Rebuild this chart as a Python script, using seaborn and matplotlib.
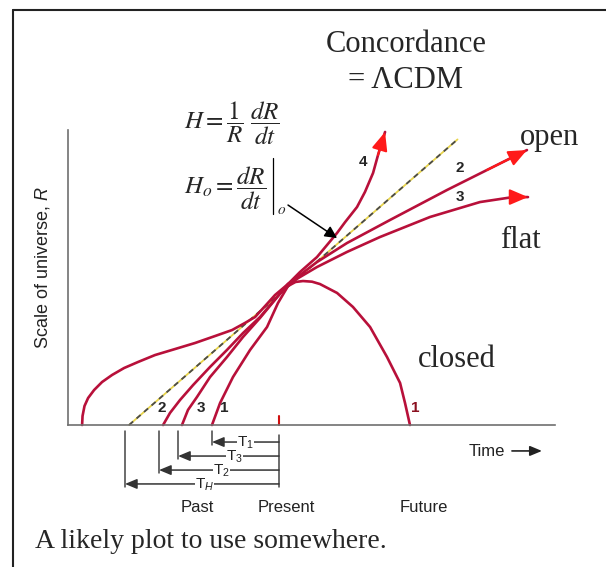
import matplotlib
matplotlib.use('Agg')
import matplotlib.pyplot as plt
import seaborn as sns
import pandas as pd

# time in Hubble times (present = 0), scale of universe R (present = 1)
lcdm_t = [-1.313, -1.31, -1.297, -1.273, -1.233, -1.18, -1.113, -1.033, -0.94, -0.827, -0.693,
          -0.56, -0.427, -0.313, -0.227, -0.16, -0.093, -0.027, 0.06, 0.14, 0.253, 0.387, 0.44,
          0.52, 0.573, 0.627, 0.66, 0.707]
lcdm_R = [0.0, 0.069, 0.145, 0.206, 0.267, 0.328, 0.382, 0.435, 0.481, 0.534, 0.58,
          0.626, 0.679, 0.725, 0.779, 0.824, 0.908, 0.992, 1.076, 1.168, 1.282, 1.466, 1.548,
          1.664, 1.779, 1.924, 2.061, 2.237]

open_t = [-0.773, -0.727, -0.66, -0.573, -0.46, -0.347, -0.24, -0.127, 0.06, 0.253, 0.453, 0.74,
          1.12, 1.387, 1.653]
open_R = [0.0, 0.092, 0.191, 0.305, 0.443, 0.573, 0.702, 0.824, 1.076, 1.244, 1.389, 1.565,
          1.794, 1.947, 2.099]

flat_t = [-0.647, -0.607, -0.547, -0.46, -0.347, -0.24, -0.127, 0.06, 0.253, 0.453, 0.673, 1.007,
          1.34, 1.56, 1.66]
flat_R = [0.0, 0.115, 0.214, 0.366, 0.519, 0.672, 0.817, 1.076, 1.206, 1.321, 1.435, 1.588,
          1.702, 1.74, 1.74]

closed_t = [-0.447, -0.393, -0.307, -0.193, -0.08, -0.007, 0.06, 0.11, 0.16, 0.22, 0.273, 0.387,
            0.493, 0.607, 0.72, 0.807, 0.84, 0.873]
closed_R = [0.0, 0.168, 0.366, 0.573, 0.748, 0.931, 1.061, 1.092, 1.099, 1.094, 1.076, 1.008,
            0.901, 0.748, 0.519, 0.321, 0.168, 0.0]

hubble_t = [-1.0, 1.19]
hubble_R = [0.0, 2.18]

# ages for each model (start of expansion)
age_labels = ['T$_1$', 'T$_3$', 'T$_2$', 'T$_H$']
age_start = [-0.447, -0.673, -0.8, -1.027]

curve_color = '#b8103a'
arrow_red = '#ff1a1a'

sns.set_style('white')
plt.rcParams['font.family'] = ['Liberation Sans', 'DejaVu Sans']
plt.rcParams['mathtext.fontset'] = 'custom'
plt.rcParams['mathtext.rm'] = 'Liberation Sans'
plt.rcParams['mathtext.it'] = 'Liberation Sans:italic'

fig = plt.figure(figsize=(6.06, 5.67), dpi=100)
W, H = 606, 567


def fx(x):
    return x / W


def fy(y):
    return 1 - y / H


ax = fig.add_axes([fx(68), fy(425), (555 - 68) / W, (425 - 130) / H])
ax.set_xlim(-1.407, 1.84)
ax.set_ylim(0, 2.252)
for s in ['top', 'right']:
    ax.spines[s].set_visible(False)
for s in ['left', 'bottom']:
    ax.spines[s].set_color('#707070')
    ax.spines[s].set_linewidth(1.2)
ax.set_xticks([])
ax.set_yticks([])
ax.patch.set_alpha(0)

# Hubble line (dashed, yellow + grey)
sns.lineplot(x=hubble_t, y=hubble_R, ax=ax, color='#e8d44a', lw=1.3, clip_on=False)
sns.lineplot(x=hubble_t, y=hubble_R, ax=ax, color='#4a4a4a', lw=1.3,
             clip_on=False).lines[-1].set_dashes([3, 2.5])

curves = [(lcdm_t, lcdm_R, True), (open_t, open_R, True), (flat_t, flat_R, True),
          (closed_t, closed_R, False)]
for t, R, tip in curves:
    df = pd.DataFrame({'t': t, 'R': R})
    sns.lineplot(data=df, x='t', y='R', ax=ax, sort=False, estimator=None,
                 color=curve_color, lw=1.9, clip_on=False)
    if tip:
        ax.annotate('', xy=(t[-1], R[-1]), xytext=(t[-2], R[-2]),
                    arrowprops=dict(arrowstyle='-|>,head_length=0.7,head_width=0.3',
                                    color=arrow_red, lw=1.5, shrinkA=0, shrinkB=0,
                                    mutation_scale=16), annotation_clip=False)

# present tick
ax.plot([0, 0], [0, 0.069], color='#d01010', lw=1.5, clip_on=False)

# curve numbers
num_kw = dict(fontsize=11, fontweight='bold', ha='center', va='center')
ax.text(0.56, 2.008, '4', **num_kw)
ax.text(1.207, 1.962, '2', **num_kw)
ax.text(1.207, 1.74, '3', **num_kw)
ax.text(-0.78, 0.13, '2', **num_kw)
ax.text(-0.52, 0.13, '3', **num_kw)
ax.text(-0.367, 0.13, '1', **num_kw)
ax.text(0.907, 0.13, '1', color='#8b1020', **num_kw)

# age brackets
row_R = [-0.13, -0.237, -0.344, -0.45]
label_t = [-0.28, -0.353, -0.44, -0.56]
for lab, t0, r, lt in zip(age_labels, age_start, row_R, label_t):
    ax.plot([t0, t0], [-0.046, r - 0.02], color='#444444', lw=1.1, clip_on=False)
    ax.annotate('', xy=(t0, r), xytext=(0, r),
                arrowprops=dict(arrowstyle='-|>,head_length=0.6,head_width=0.25',
                                color='#333333', lw=1.1, shrinkA=0, shrinkB=0,
                                mutation_scale=12), annotation_clip=False)
    ax.text(lt, r - 0.036, lab, fontsize=11, color='#222222', ha='left', va='baseline',
            bbox=dict(fc='white', ec='none', pad=0.2))
ax.plot([0, 0], [-0.076, -0.473], color='#444444', lw=1.1, clip_on=False)

# Ho arrow
ax.annotate('', xy=(0.387, 1.427), xytext=(0.06, 1.679),
            arrowprops=dict(arrowstyle='-|>,head_length=0.6,head_width=0.3', color='black',
                            lw=1.1, shrinkA=0, shrinkB=0, mutation_scale=12),
            annotation_clip=False)

# axis words
fig.text(fx(43), fy(268), 'Scale of universe, $\\mathit{R}$', rotation=90, ha='center',
         va='center', fontsize=13, color='#222222')
fig.text(fx(487), fy(451), 'Time', ha='center', va='center', fontsize=12, color='#222222')
ax.annotate('', xy=(1.753, -0.198), xytext=(1.553, -0.198),
            arrowprops=dict(arrowstyle='-|>,head_length=0.6,head_width=0.25', color='#222222',
                            lw=1.2, shrinkA=0, shrinkB=0, mutation_scale=12),
            annotation_clip=False)
for word, x in [('Past', 197), ('Present', 286), ('Future', 424)]:
    fig.text(fx(x), fy(507), word, ha='center', va='center', fontsize=12, color='#222222')

# formulas
fig.text(fx(184), fy(123), r'$H = \dfrac{1}{R}\;\dfrac{dR}{dt}$', ha='left', va='center',
         fontsize=18, math_fontfamily='stix')
fig.text(fx(184), fy(188), r'$H_o = \dfrac{dR}{dt}$', ha='left', va='center',
         fontsize=18, math_fontfamily='stix')
fig.add_artist(plt.Line2D([fx(273), fx(273)], [fy(158), fy(214)], transform=fig.transFigure,
                          color='black', lw=0.9))
fig.text(fx(277), fy(210), r'$o$', ha='left', va='center', fontsize=11, math_fontfamily='stix')

# serif labels
serif = ['Liberation Serif', 'DejaVu Serif']
fig.text(fx(406), fy(52), 'Concordance', ha='center', va='baseline', fontsize=22, family=serif)
fig.text(fx(406), fy(88), '= \u039bCDM', ha='center', va='baseline', fontsize=22, family=serif)
fig.text(fx(520), fy(145), 'open', ha='left', va='baseline', fontsize=22, family=serif)
fig.text(fx(500), fy(248), 'flat', ha='left', va='baseline', fontsize=22, family=serif)
fig.text(fx(418), fy(367), 'closed', ha='left', va='baseline', fontsize=22, family=serif)
fig.text(fx(35), fy(548), 'A likely plot to use somewhere.', ha='left', va='baseline',
         fontsize=20, family=serif)

# frame
fig.add_artist(plt.Line2D([fx(13), fx(13)], [fy(10), 0], transform=fig.transFigure,
                          color='#222222', lw=1.5))
fig.add_artist(plt.Line2D([fx(13), 1], [fy(10), fy(10)], transform=fig.transFigure,
                          color='#222222', lw=1.5))

fig.savefig('out.png', dpi=100)
